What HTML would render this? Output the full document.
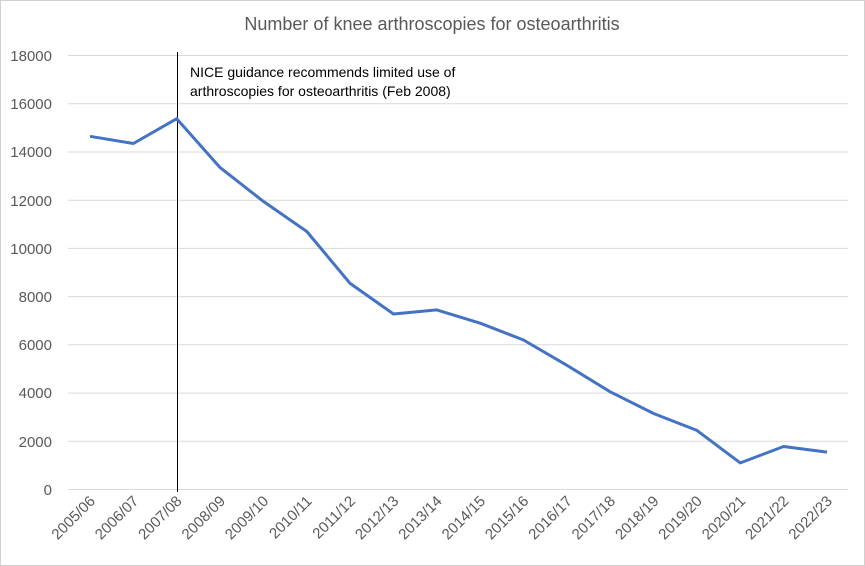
<!DOCTYPE html>
<html><head><style>
body{margin:0;background:#fff}
svg{display:block;font-family:"Liberation Sans",sans-serif}
</style></head><body>
<svg width="865" height="566" viewBox="0 0 865 566">
<rect x="0.5" y="0.5" width="864" height="565" fill="#fff" stroke="#d0d0d0"/>
<text x="432" y="30" text-anchor="middle" font-size="18" fill="#595959">Number of knee arthroscopies for osteoarthritis</text>
<g stroke="#d9d9d9" stroke-width="1">
<line x1="68" x2="848" y1="489.5" y2="489.5"/>
<line x1="68" x2="848" y1="441.3" y2="441.3"/>
<line x1="68" x2="848" y1="393.1" y2="393.1"/>
<line x1="68" x2="848" y1="344.8" y2="344.8"/>
<line x1="68" x2="848" y1="296.6" y2="296.6"/>
<line x1="68" x2="848" y1="248.4" y2="248.4"/>
<line x1="68" x2="848" y1="200.2" y2="200.2"/>
<line x1="68" x2="848" y1="152" y2="152"/>
<line x1="68" x2="848" y1="103.7" y2="103.7"/>
<line x1="68" x2="848" y1="55.5" y2="55.5"/>
</g>
<g font-size="15" fill="#595959" text-anchor="end">
<text x="52" y="495">0</text>
<text x="52" y="447">2000</text>
<text x="52" y="398">4000</text>
<text x="52" y="350">6000</text>
<text x="52" y="302">8000</text>
<text x="52" y="254">10000</text>
<text x="52" y="206">12000</text>
<text x="52" y="157">14000</text>
<text x="52" y="109">16000</text>
<text x="52" y="61">18000</text>
</g>
<line x1="177.5" x2="177.5" y1="52" y2="492" stroke="#000" stroke-width="1"/>
<text x="190" y="77" font-size="14" fill="#000">NICE guidance recommends limited use of</text>
<text x="190" y="96" font-size="14" fill="#000">arthroscopies for osteoarthritis (Feb 2008)</text>
<polyline fill="none" stroke="#4472c4" stroke-width="3" stroke-linejoin="round" points="90,136.3 133.4,143.5 176.7,118.7 220.1,167.6 263.4,201.4 306.8,231.5 350.1,283.4 393.5,314 436.8,309.9 480.2,323.2 523.5,340 566.9,365.3 610.2,391.8 653.6,413.5 696.9,430.4 740.3,462.9 783.6,446.5 827,452.1"/>
<g font-size="15" fill="#595959" text-anchor="end">
<text transform="translate(96,502) rotate(-45)">2005/06</text>
<text transform="translate(139.4,502) rotate(-45)">2006/07</text>
<text transform="translate(182.7,502) rotate(-45)">2007/08</text>
<text transform="translate(226.1,502) rotate(-45)">2008/09</text>
<text transform="translate(269.4,502) rotate(-45)">2009/10</text>
<text transform="translate(312.8,502) rotate(-45)">2010/11</text>
<text transform="translate(356.1,502) rotate(-45)">2011/12</text>
<text transform="translate(399.5,502) rotate(-45)">2012/13</text>
<text transform="translate(442.8,502) rotate(-45)">2013/14</text>
<text transform="translate(486.2,502) rotate(-45)">2014/15</text>
<text transform="translate(529.5,502) rotate(-45)">2015/16</text>
<text transform="translate(572.9,502) rotate(-45)">2016/17</text>
<text transform="translate(616.2,502) rotate(-45)">2017/18</text>
<text transform="translate(659.6,502) rotate(-45)">2018/19</text>
<text transform="translate(702.9,502) rotate(-45)">2019/20</text>
<text transform="translate(746.3,502) rotate(-45)">2020/21</text>
<text transform="translate(789.6,502) rotate(-45)">2021/22</text>
<text transform="translate(833,502) rotate(-45)">2022/23</text>
</g>
</svg>
</body></html>
